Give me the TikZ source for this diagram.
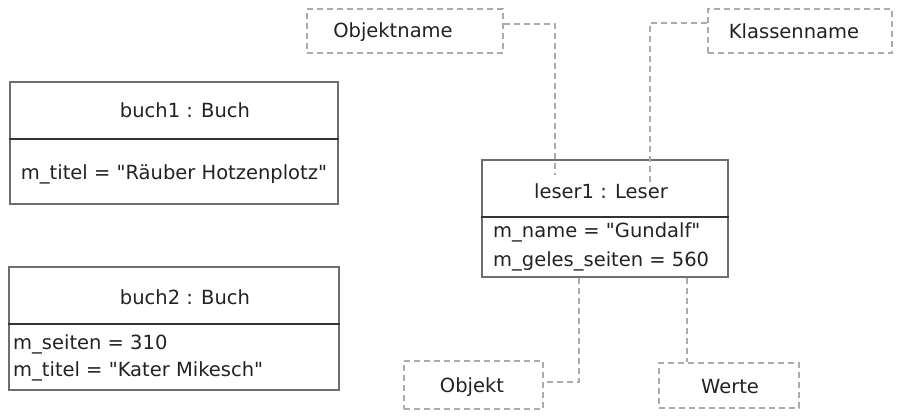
\documentclass[tikz,border=0pt]{standalone}
\usepackage{fontspec}
\defaultfontfeatures{Ligatures=TeXOff}
\setmainfont[Ligatures=TeXOff]{DejaVu Sans}
\definecolor{boxline}{HTML}{6E6E6E}
\definecolor{divline}{HTML}{333333}
\definecolor{noteline}{HTML}{ABABAB}
\definecolor{txt}{HTML}{222222}
\newcommand{\sq}{\symbol{34}}
\begin{document}
\begin{tikzpicture}[x=1pt,y=-1pt,
  objbox/.style={draw=boxline,line width=1.2pt,rectangle,inner sep=0pt},
  notebox/.style={draw=noteline,line width=1.2pt,dash pattern=on 6pt off 4pt,rectangle,inner sep=0pt},
  divider/.style={draw=divline,line width=1.2pt},
  noteconn/.style={draw=noteline,line width=1.2pt,dash pattern=on 6pt off 4pt},
  lbl/.style={anchor=base,inner sep=0pt,text=txt,font=\fontsize{19.5}{23}\selectfont},
  attr/.style={anchor=base west,inner sep=0pt,text=txt,font=\fontsize{19.5}{23}\selectfont}]
\useasboundingbox (0,0) rectangle (900,419);
% object boxes
\node[objbox,minimum width=328pt,minimum height=122pt] (buch1) at (174,143) {};
\node[objbox,minimum width=330pt,minimum height=123pt] (buch2) at (174,328.5) {};
\node[objbox,minimum width=246pt,minimum height=117pt] (leser) at (605,218.5) {};
\draw[divider] (buch1.west |- 0,139) -- (buch1.east |- 0,139);
\draw[divider] (buch2.west |- 0,324) -- (buch2.east |- 0,324);
\draw[divider] (leser.west |- 0,217) -- (leser.east |- 0,217);
% texts
\node[lbl] (t1) at (185,118) {buch1 : Buch};
\node[lbl] (a1) at (174,180) {m\_titel = \sq Räuber Hotzenplotz\sq};
\node[lbl] (t2) at (185,305) {buch2 : Buch};
\node[attr] (a2) at (13,350) {m\_seiten = 310};
\node[attr] (a3) at (13,377) {m\_titel = \sq Kater Mikesch\sq};
\node[lbl] (t3) at (601,199) {leser1 : Leser};
\node[attr] (a4) at (493,238) {m\_name = \sq Gundalf\sq};
\node[attr] (a5) at (493,267) {m\_geles\_seiten = 560};
% note boxes
\node[notebox,minimum width=196pt,minimum height=44pt] (objname) at (405,31) {};
\node[lbl] at (393,38) {Objektname};
\node[notebox,minimum width=184pt,minimum height=44pt] (klname) at (800,31) {};
\node[lbl] at (794,39) {Klassenname};
\node[notebox,minimum width=139pt,minimum height=48pt] (objekt) at (473.5,385) {};
\node[lbl] at (472,393) {Objekt};
\node[notebox,minimum width=140pt,minimum height=45pt] (werte) at (729,385.5) {};
\node[lbl] at (730,394) {Werte};
% connectors
\coordinate (c1) at (555,24);
\coordinate (c1e) at (555,175);
\draw[noteconn] (objname.east |- c1) -- (c1) -- (c1e);
\coordinate (c2) at (650,23);
\coordinate (c2e) at (650,183);
\draw[noteconn] (klname.west |- c2) -- (c2) -- (c2e);
\coordinate (c3) at (579,382);
\draw[noteconn] (leser.south -| c3) -- (c3) -- (objekt.east |- c3);
\coordinate (c4) at (687,300);
\draw[noteconn] (leser.south -| c4) -- (werte.north -| c4);
\end{tikzpicture}
\end{document}
